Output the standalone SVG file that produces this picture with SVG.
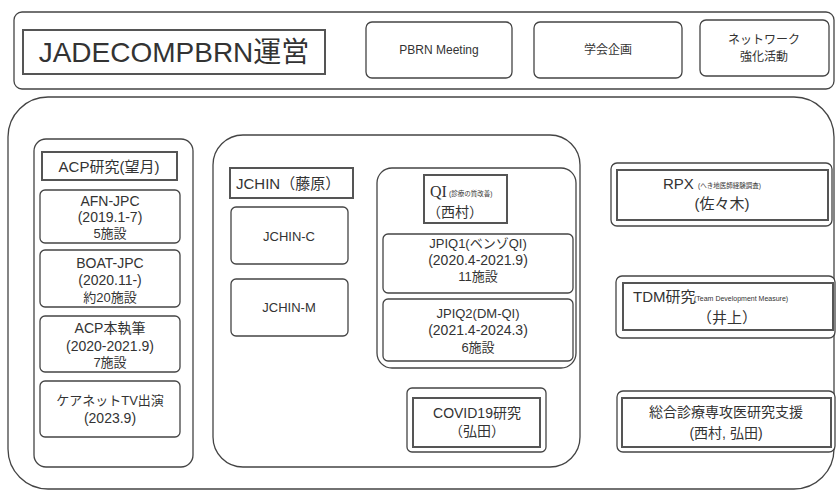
<svg xmlns="http://www.w3.org/2000/svg" width="837" height="493" viewBox="0 0 837 493">
<style>
text{font-family:"Liberation Sans","Noto Sans CJK JP",sans-serif;fill:#333;text-anchor:middle}
.b{fill:#fff;stroke:#444;stroke-width:1.3}
.h{fill:#fff;stroke:#555;stroke-width:2}
.t14{font-size:14px}
.t13{font-size:13px}
.t12{font-size:12px}
.t15{font-size:15px}
.s{font-size:6.5px}
</style>
<rect width="837" height="493" fill="#fff"/>
<g id="top">
<rect class="b" x="14" y="12" width="820" height="77" rx="8"/>
</g>
<g id="jadecomp">
<rect class="h" x="23" y="30" width="302" height="44"/>
<text x="174" y="62" style="font-size:28px">JADECOMPBRN運営</text>
</g>
<g id="pbrn">
<rect class="b" x="366" y="22" width="146" height="56" rx="6"/>
<text class="t12" x="439" y="54">PBRN Meeting</text>
</g>
<g id="gakkai">
<rect class="b" x="534" y="22" width="148" height="56" rx="6"/>
<text class="t12" x="608" y="54">学会企画</text>
</g>
<g id="network">
<rect class="b" x="700" y="20" width="129" height="56" rx="6"/>
<text class="t12" x="764" y="44">ネットワーク</text>
<text class="t12" x="764" y="61">強化活動</text>
</g>
<g id="main">
<rect class="b" x="8" y="97" width="826" height="392" rx="40"/>
</g>
<g id="acp">
<rect class="b" x="34" y="139" width="159" height="328" rx="12"/>
<rect class="h" x="42" y="152" width="135" height="28"/>
<text class="t15" x="109" y="172">ACP研究(望月)</text>
</g>
<g id="afn">
<rect class="b" x="40" y="190" width="140" height="53" rx="5"/>
<text class="t14" x="110" y="206">AFN-JPC</text>
<text class="t14" x="110" y="222">(2019.1-7)</text>
<text class="t13" x="110" y="238">5施設</text>
</g>
<g id="boat">
<rect class="b" x="40" y="250" width="140" height="57" rx="5"/>
<text class="t14" x="110" y="268">BOAT-JPC</text>
<text class="t14" x="110" y="285">(2020.11-)</text>
<text class="t13" x="110" y="302">約20施設</text>
</g>
<g id="acpwrite">
<rect class="b" x="40" y="316" width="140" height="56" rx="5"/>
<text class="t14" x="110" y="333">ACP本執筆</text>
<text class="t14" x="110" y="351">(2020-2021.9)</text>
<text class="t13" x="110" y="367">7施設</text>
</g>
<g id="carenet">
<rect class="b" x="40" y="381" width="140" height="56" rx="5"/>
<text class="t13" x="110" y="405">ケアネットTV出演</text>
<text class="t14" x="110" y="423">(2023.9)</text>
</g>
<g id="jchin">
<rect class="b" x="213" y="135" width="367" height="332" rx="30"/>
<rect class="h" x="230" y="168" width="123" height="30"/>
<text class="t15" x="236" y="189" style="text-anchor:start">JCHIN（藤原）</text>
</g>
<g id="jchinc">
<rect class="b" x="231" y="207" width="117" height="57" rx="5"/>
<text class="t13" x="289" y="241">JCHIN-C</text>
</g>
<g id="jchinm">
<rect class="b" x="231" y="279" width="117" height="57" rx="5"/>
<text class="t13" x="289" y="312">JCHIN-M</text>
</g>
<g id="qi">
<rect class="b" x="377" y="168" width="199" height="200" rx="15"/>
<rect class="h" x="424" y="175" width="83" height="48"/>
<text x="430" y="197" style="text-anchor:start;font-family:'Liberation Serif',serif;font-size:16px">QI</text>
<text class="s" x="449" y="196" style="text-anchor:start">(診療の質改善)</text>
<text class="t14" x="455" y="217">（西村）</text>
</g>
<g id="jpiq1">
<rect class="b" x="383" y="234" width="190" height="59" rx="5"/>
<text class="t13" x="478" y="248">JPIQ1(ベンゾQI)</text>
<text class="t14" x="478" y="265">(2020.4-2021.9)</text>
<text class="t13" x="478" y="281">11施設</text>
</g>
<g id="jpiq2">
<rect class="b" x="383" y="299" width="190" height="62" rx="5"/>
<text class="t13" x="478" y="318">JPIQ2(DM-QI)</text>
<text class="t14" x="478" y="335">(2021.4-2024.3)</text>
<text class="t13" x="478" y="352">6施設</text>
</g>
<g id="covid">
<rect class="b" x="407" y="388" width="139" height="64" rx="5"/>
<rect class="h" x="413" y="398" width="127" height="49"/>
<text class="t14" x="477" y="418">COVID19研究</text>
<text class="t14" x="477" y="436">（弘田）</text>
</g>
<g id="rpx">
<rect class="b" x="611" y="163" width="221" height="63" rx="6"/>
<rect class="h" x="617" y="170" width="211" height="50"/>
<text class="t15" x="663" y="189" style="text-anchor:start">RPX</text>
<text class="s" x="698" y="188" style="text-anchor:start">(へき地医師経験調査)</text>
<text class="t15" x="722" y="209">(佐々木)</text>
</g>
<g id="tdm">
<rect class="b" x="616" y="276" width="219" height="62" rx="6"/>
<rect class="h" x="623" y="283" width="210" height="47"/>
<text class="t15" x="633" y="302" style="text-anchor:start">TDM研究</text>
<text x="694" y="301" style="text-anchor:start;font-size:7px">(Team Development Measure)</text>
<text class="t15" x="727" y="323">（井上）</text>
</g>
<g id="sogo">
<rect class="b" x="617" y="391" width="218" height="61" rx="6"/>
<rect class="h" x="622" y="398" width="209" height="49"/>
<text class="t14" x="726" y="417">総合診療専攻医研究支援</text>
<text class="t14" x="726" y="438">(西村, 弘田)</text>
</g>
<g id="connectors"></g>
</svg>
